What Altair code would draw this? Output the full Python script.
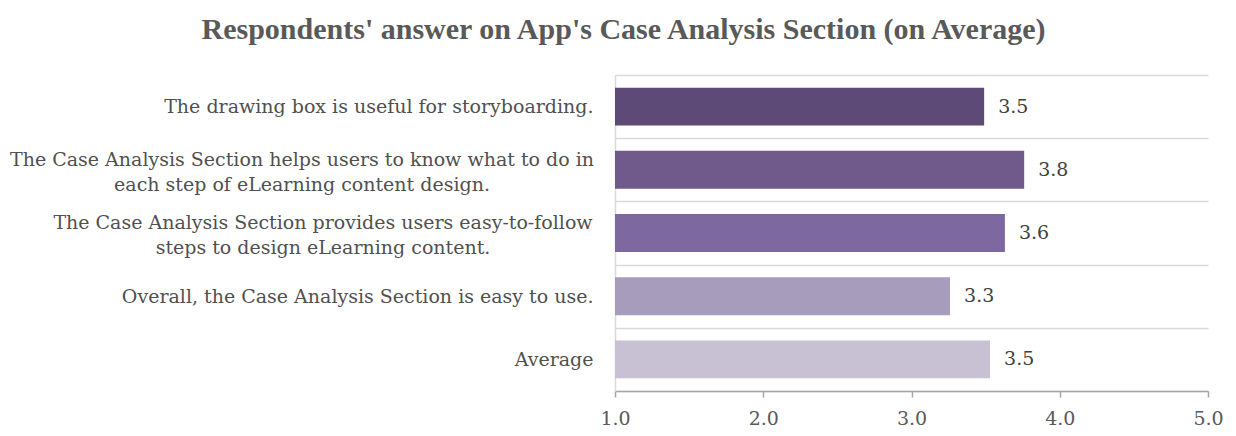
import altair as alt
import pandas as pd

categories = [
    "The drawing box is useful for storyboarding.",
    "The Case Analysis Section helps users to know what to do in|each step of eLearning content design.",
    "The Case Analysis Section provides users easy-to-follow|steps to design eLearning content.",
    "Overall, the Case Analysis Section is easy to use.",
    "Average",
]
values = [3.49, 3.76, 3.63, 3.26, 3.53]
bar_colors = ["#5d4a77", "#6f5a8b", "#7d68a0", "#a79cbb", "#c8c1d4"]
x_ticks = [1, 2, 3, 4, 5]

df = pd.DataFrame({"label": categories, "value": values})

FONT = "DejaVu Serif"
TITLE_FONT = "Liberation Serif"
LABEL_COLOR = "#505050"

y_enc = alt.Y(
    "label:N",
    sort=categories,
    scale=alt.Scale(paddingInner=0, paddingOuter=0),
    axis=alt.Axis(
        title=None,
        grid=True,
        gridColor="#d9d9d9",
        gridWidth=1.5,
        tickBand="extent",
        ticks=False,
        domain=True,
        domainColor="#d9d9d9",
        domainWidth=1.5,
        labelPadding=22,
        labelFont=FONT,
        labelFontSize=19,
        labelColor=LABEL_COLOR,
        labelLimit=0,
        labelExpr="indexof(datum.label, '|') >= 0 ? '' : datum.label",
    ),
)

x_scale = alt.Scale(domain=[1, 5], zero=False, nice=False)

bars = alt.Chart(df).mark_bar(height=alt.RelativeBandSize(0.6)).encode(
    y=y_enc,
    x=alt.X(
        "value:Q",
        scale=x_scale,
        axis=alt.Axis(
            title=None,
            values=x_ticks,
            format=".1f",
            grid=False,
            domainColor="#a6a6a6",
            domainWidth=1.5,
            tickColor="#a6a6a6",
            tickSize=6,
            tickWidth=1.5,
            labelFlush=False,
            labelFont=FONT,
            labelFontSize=19,
            labelColor="#595959",
            labelPadding=12,
        ),
    ),
    x2=alt.datum(1),
    color=alt.Color(
        "label:N",
        scale=alt.Scale(domain=categories, range=bar_colors),
        legend=None,
    ),
)

text = alt.Chart(df).mark_text(
    align="left", baseline="middle", dx=14, font=FONT, fontSize=19, color="#404040"
).encode(
    y=alt.Y("label:N", sort=categories),
    x=alt.X("value:Q", scale=x_scale),
    text=alt.Text("value:Q", format=".1f"),
)


def wrapped_label(cat, center_px):
    # two-line category label, lines centred on each other (as in the source)
    return (
        alt.Chart(df)
        .transform_filter(alt.datum.label == cat)
        .transform_calculate(lines="split(datum.label, '|')")
        .mark_text(
            align="center",
            baseline="middle",
            font=FONT,
            fontSize=19,
            lineHeight=25,
            dy=-10,
            color=LABEL_COLOR,
        )
        .encode(
            y=alt.Y("label:N", sort=categories),
            x=alt.value(center_px),
            text="lines:N",
        )
    )


label2 = wrapped_label(categories[1], -313)
label3 = wrapped_label(categories[2], -292)

chart = (
    alt.layer(bars, text, label2, label3)
    .properties(
        width=593,
        height=316,
        autosize=alt.AutoSizeParams(type="none"),
        padding={"left": 607, "top": 67, "right": 20, "bottom": 37},
        title=alt.TitleParams(
            "Respondents' answer on App's Case Analysis Section (on Average)",
            font=TITLE_FONT,
            fontSize=30,
            fontWeight="bold",
            color="#595959",
            anchor="middle",
            dx=-288,
            offset=21,
        ),
    )
    .configure_view(stroke=None)
)

chart.save("out.html", embed_options={"renderer": "svg", "actions": False})
